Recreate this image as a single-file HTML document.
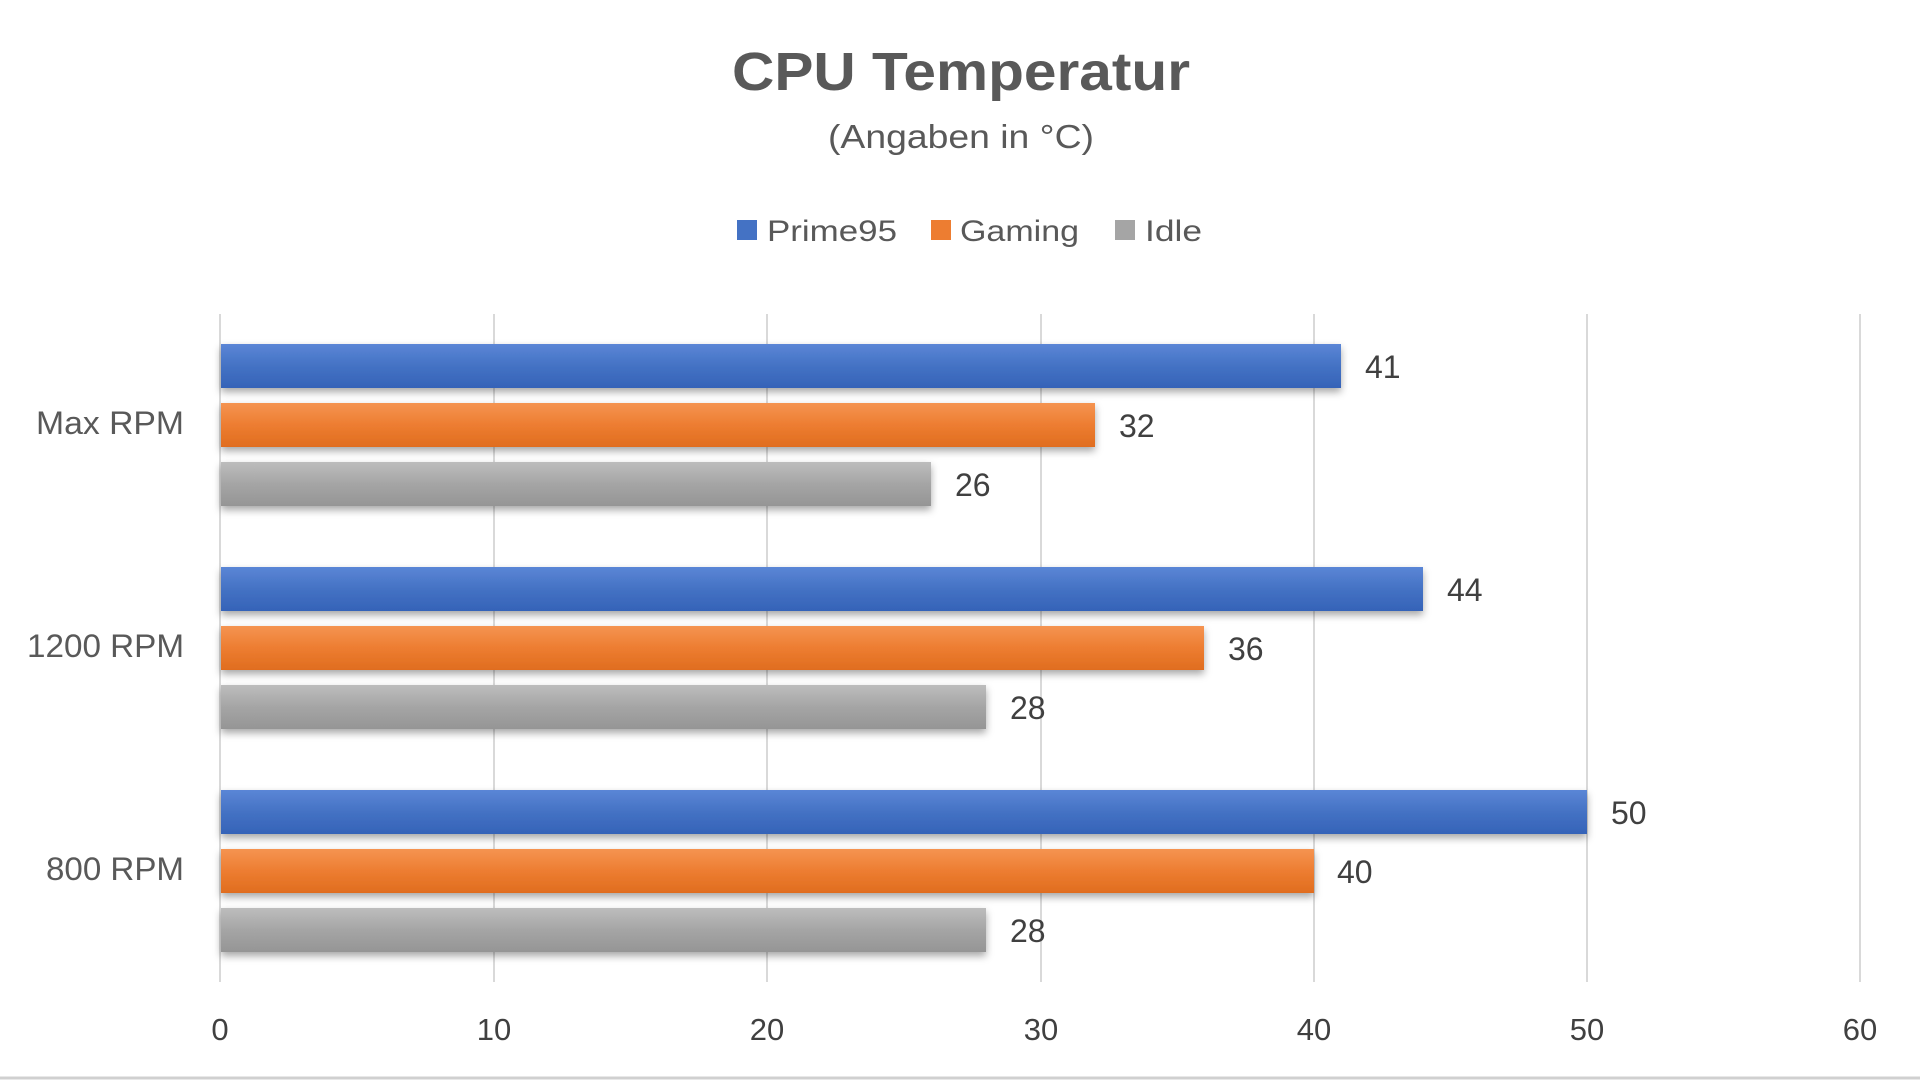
<!DOCTYPE html>
<html><head><meta charset="utf-8"><style>body{margin:0;background:#fff}svg{display:block}</style></head><body>
<svg width="1920" height="1080" xmlns="http://www.w3.org/2000/svg" font-family="Liberation Sans, sans-serif">
<defs>
<linearGradient id="b" x1="0" y1="0" x2="0" y2="1"><stop offset="0" stop-color="#5b86d6"/><stop offset="0.5" stop-color="#4472c4"/><stop offset="1" stop-color="#3563b8"/></linearGradient>
<linearGradient id="o" x1="0" y1="0" x2="0" y2="1"><stop offset="0" stop-color="#f59451"/><stop offset="0.5" stop-color="#ed7d31"/><stop offset="1" stop-color="#e06d1f"/></linearGradient>
<linearGradient id="g" x1="0" y1="0" x2="0" y2="1"><stop offset="0" stop-color="#bdbdbd"/><stop offset="0.5" stop-color="#a5a5a5"/><stop offset="1" stop-color="#959595"/></linearGradient>
<filter id="s" x="-5%" y="-30%" width="110%" height="170%"><feDropShadow dx="0" dy="4" stdDeviation="4" flood-opacity="0.35"/></filter>
</defs>
<rect width="1920" height="1080" fill="#fff"/>
<text x="961" y="90" text-anchor="middle" font-size="54" font-weight="bold" fill="#595959" textLength="458" lengthAdjust="spacingAndGlyphs">CPU Temperatur</text>
<text x="961" y="148" text-anchor="middle" font-size="33" fill="#595959" textLength="266" lengthAdjust="spacingAndGlyphs">(Angaben in °C)</text>
<g font-size="30" fill="#595959">
<rect x="737" y="220" width="20" height="20" fill="#4472c4"/><text x="767" y="241" textLength="130" lengthAdjust="spacingAndGlyphs">Prime95</text>
<rect x="931" y="220" width="20" height="20" fill="#ed7d31"/><text x="960" y="241" textLength="119" lengthAdjust="spacingAndGlyphs">Gaming</text>
<rect x="1115" y="220" width="20" height="20" fill="#a5a5a5"/><text x="1145" y="241" textLength="57" lengthAdjust="spacingAndGlyphs">Idle</text>
</g>
<g stroke="#d9d9d9" stroke-width="2">
<line x1="220" y1="314" x2="220" y2="982"/><line x1="494" y1="314" x2="494" y2="982"/><line x1="767" y1="314" x2="767" y2="982"/><line x1="1041" y1="314" x2="1041" y2="982"/><line x1="1314" y1="314" x2="1314" y2="982"/><line x1="1587" y1="314" x2="1587" y2="982"/><line x1="1860" y1="314" x2="1860" y2="982"/>
</g>
<line x1="0" y1="1078" x2="1920" y2="1078" stroke="#d0d0d0" stroke-width="3"/>
<g font-size="31" fill="#404040" text-anchor="middle">
<text x="220" y="1040">0</text><text x="494" y="1040">10</text><text x="767" y="1040">20</text><text x="1041" y="1040">30</text><text x="1314" y="1040">40</text><text x="1587" y="1040">50</text><text x="1860" y="1040">60</text>
</g>
<g font-size="32" fill="#595959" text-anchor="end">
<text x="184" y="434" textLength="148" lengthAdjust="spacingAndGlyphs">Max RPM</text><text x="184" y="657" textLength="157" lengthAdjust="spacingAndGlyphs">1200 RPM</text><text x="184" y="880" textLength="138" lengthAdjust="spacingAndGlyphs">800 RPM</text>
</g>
<g filter="url(#s)">
<rect x="221" y="344" width="1120" height="44" fill="url(#b)"/>
<rect x="221" y="403" width="874" height="44" fill="url(#o)"/>
<rect x="221" y="462" width="710" height="44" fill="url(#g)"/>
<rect x="221" y="567" width="1202" height="44" fill="url(#b)"/>
<rect x="221" y="626" width="983" height="44" fill="url(#o)"/>
<rect x="221" y="685" width="765" height="44" fill="url(#g)"/>
<rect x="221" y="790" width="1366" height="44" fill="url(#b)"/>
<rect x="221" y="849" width="1093" height="44" fill="url(#o)"/>
<rect x="221" y="908" width="765" height="44" fill="url(#g)"/>
</g>
<g font-size="32" fill="#404040">
<text x="1365" y="378">41</text><text x="1119" y="437">32</text><text x="955" y="496">26</text>
<text x="1447" y="601">44</text><text x="1228" y="660">36</text><text x="1010" y="719">28</text>
<text x="1611" y="824">50</text><text x="1337" y="883">40</text><text x="1010" y="942">28</text>
</g>
</svg>
</body></html>
